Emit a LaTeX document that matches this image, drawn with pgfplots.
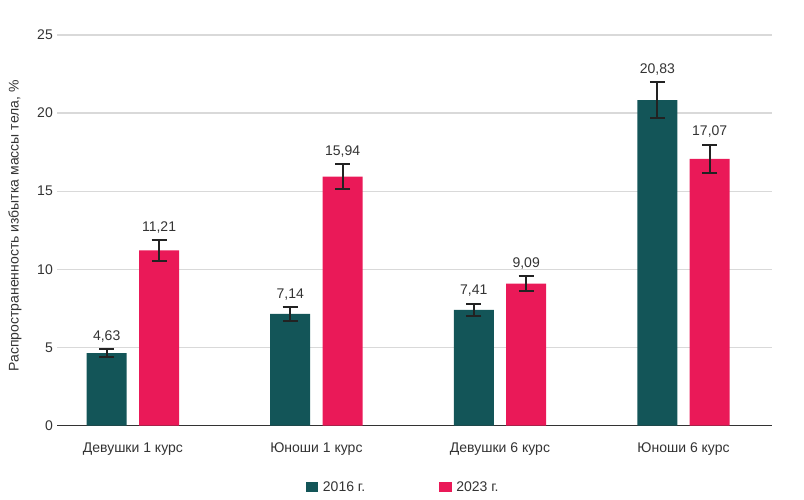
\documentclass[border=0pt]{standalone}
\usepackage{pgfplots}
\pgfplotsset{compat=1.18}
\usepackage{pgfplotstable}
\usepackage{fontspec}
\setmainfont{Liberation Sans}
\definecolor{tealbar}{HTML}{135558}
\definecolor{crimbar}{HTML}{EA1958}
\definecolor{txt}{HTML}{333333}
\definecolor{gridc}{HTML}{D9D9D9}
\definecolor{errc}{HTML}{222222}

\pgfplotstableread{
x y e
0 4.63 0.24
1 7.14 0.44
2 7.41 0.40
3 20.83 1.15
}\tsixteen
\pgfplotstableread{
x y e
0 11.21 0.65
1 15.94 0.79
2 9.09 0.48
3 17.07 0.89
}\ttwentythree

\begin{document}
\begin{tikzpicture}[font=\fontsize{14bp}{16bp}\selectfont]
\path[use as bounding box] (0,0) rectangle (804bp,500bp);
\begin{axis}[
  at={(57bp,74.5bp)}, anchor=south west,
  scale only axis, width=715bp, height=390.5bp,
  xmin=-0.4134, xmax=3.482, ymin=0, ymax=25,
  ytick={0,5,10,15,20,25},
  xtick={0,1,2,3},
  xticklabels={Девушки 1 курс, Юноши 1 курс, Девушки 6 курс, Юноши 6 курс},
  ymajorgrids, grid style={gridc, line width=1.2bp},
  axis x line*=bottom, axis y line*=left,
  x axis line style={txt, line width=1.4bp, -},
  y axis line style={draw=none},
  major tick length=0pt,
  tick label style={txt},
  /pgf/number format/assume math mode=true,
  yticklabel style={anchor=east, inner sep=0pt, xshift=-4bp},
  xticklabel style={anchor=base, inner sep=0pt, yshift=-27bp},
  ylabel={Распространенность избытка массы тела, \%},
  ylabel style={at={(axis description cs:-0.0587,0.511)}, anchor=center, txt},
  legend columns=2,
  legend style={draw=none, fill=none, at={(axis description cs:0.4843,-0.1575)}, anchor=center,
    /tikz/every even column/.append style={column sep=72bp}, text=txt,
    font=\fontsize{14bp}{16bp}\selectfont},
]
\addplot[ybar, bar width=40bp, bar shift=0pt, fill=tealbar, draw=none,
  legend image code/.code={\fill[tealbar] (0bp,-4.5bp) rectangle (12.5bp,5bp); \path (15bp,0bp);},
  error bars/.cd, y dir=both, y explicit,
  error bar style={draw=errc, line width=2bp},
  error mark options={draw=errc, line width=2bp, mark size=7.5bp, rotate=90}]
  table[x expr=\thisrow{x}-0.1427, y=y, y error=e] {\tsixteen};
\addlegendentry{2016 г.}
\addplot[ybar, bar width=40bp, bar shift=0pt, fill=crimbar, draw=none,
  legend image code/.code={\fill[crimbar] (0bp,-4.5bp) rectangle (12.5bp,5bp); \path (15bp,0bp);},
  error bars/.cd, y dir=both, y explicit,
  error bar style={draw=errc, line width=2bp},
  error mark options={draw=errc, line width=2bp, mark size=7.5bp, rotate=90}]
  table[x expr=\thisrow{x}+0.1427, y=y, y error=e] {\ttwentythree};
\addlegendentry{2023 г.}
\addplot[draw=none, mark=none, forget plot, point meta=explicit,
  nodes near coords={\pgfmathprintnumber[fixed,fixed zerofill,precision=2,use comma]{\pgfplotspointmeta}},
  every node near coord/.append style={anchor=base, inner sep=0pt, yshift=9bp, txt}]
  table[x expr=\thisrow{x}-0.1427, y expr=\thisrow{y}+\thisrow{e}, meta=y] {\tsixteen};
\addplot[draw=none, mark=none, forget plot, point meta=explicit,
  nodes near coords={\pgfmathprintnumber[fixed,fixed zerofill,precision=2,use comma]{\pgfplotspointmeta}},
  every node near coord/.append style={anchor=base, inner sep=0pt, yshift=9bp, txt}]
  table[x expr=\thisrow{x}+0.1427, y expr=\thisrow{y}+\thisrow{e}, meta=y] {\ttwentythree};
\end{axis}
\end{tikzpicture}
\end{document}
